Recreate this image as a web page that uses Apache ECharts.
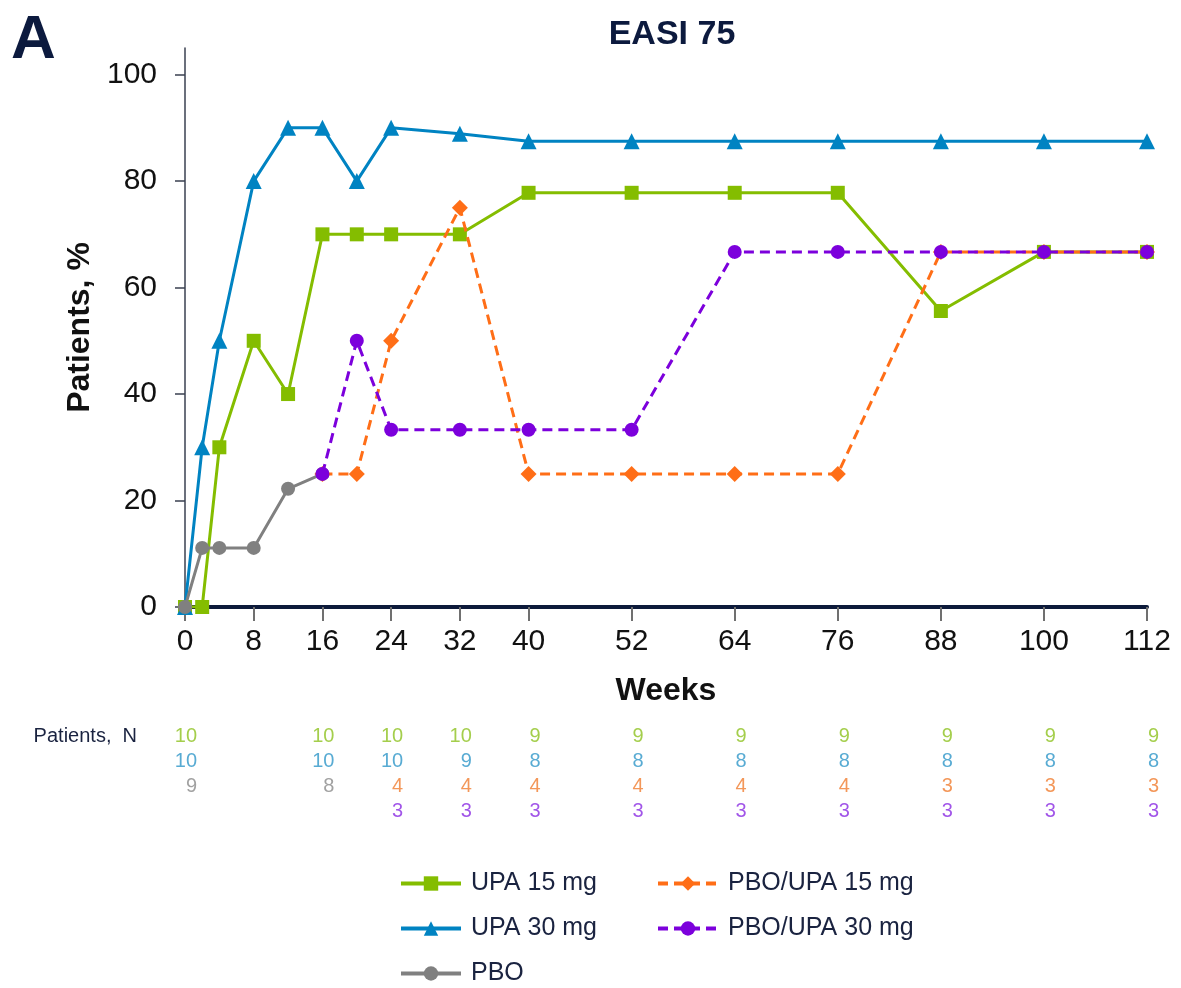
<!DOCTYPE html>
<html>
<head>
<meta charset="utf-8">
<script src="https://cdn.jsdelivr.net/npm/echarts@6/dist/echarts.min.js"></script>
<style>
html,body{margin:0;padding:0;background:#fff;}
#chart{width:1181px;height:988px;}
</style>
</head>
<body>
<div id="chart"></div>
<script>
// ---- data ----
const weeks = [0, 2, 4, 8, 12, 16, 20, 24, 32, 40, 52, 64, 76, 88, 100, 112];
const upa15 = [0, 0, 30, 50, 40, 70, 70, 70, 70, 77.8, 77.8, 77.8, 77.8, 55.6, 66.7, 66.7];
const upa30 = [0, 30, 50, 80, 90, 90, 80, 90, 88.9, 87.5, 87.5, 87.5, 87.5, 87.5, 87.5, 87.5];
const pboWeeks = [0, 2, 4, 8, 12, 16];
const pbo = [0, 11.1, 11.1, 11.1, 22.2, 25];
const switchWeeks = [16, 20, 24, 32, 40, 52, 64, 76, 88, 100, 112];
const pboUpa15 = [25, 25, 50, 75, 25, 25, 25, 25, 66.7, 66.7, 66.7];
const pboUpa30 = [25, 50, 33.3, 33.3, 33.3, 33.3, 66.7, 66.7, 66.7, 66.7, 66.7];

const xTickLabels = [0, 8, 16, 24, 32, 40, 52, 64, 76, 88, 100, 112];
const yTickLabels = [0, 20, 40, 60, 80, 100];

// patients N table
const nWeeks = [0, 16, 24, 32, 40, 52, 64, 76, 88, 100, 112];
const nUpa15 = [10, 10, 10, 10, 9, 9, 9, 9, 9, 9, 9];
const nUpa30 = [10, 10, 10, 9, 8, 8, 8, 8, 8, 8, 8];
const nPboWeeks = [0, 16];
const nPbo = [9, 8];
const nSwitchWeeks = [24, 32, 40, 52, 64, 76, 88, 100, 112];
const nPboUpa15 = [4, 4, 4, 4, 4, 4, 3, 3, 3];
const nPboUpa30 = [3, 3, 3, 3, 3, 3, 3, 3, 3];

const names = ['UPA 15 mg', 'UPA 30 mg', 'PBO', 'PBO/UPA 15 mg', 'PBO/UPA 30 mg'];
const colors = ['#84bd00', '#0083c2', '#808080', '#ff6e17', '#7c00dc'];
const tableColors = ['#8dc21f', '#2e96c8', '#8a8a8a', '#f07d30', '#8a2be2'];

const FONT = 'Liberation Sans, Arial, sans-serif';
const NAVY = '#0c1a3e';

const zip = (xs, ys) => xs.map((x, i) => [x, ys[i]]);

function lineSeries(i, xs, ys, symbol, size, dashed) {
  return {
    name: names[i], type: 'line', xAxisIndex: 0, yAxisIndex: 0,
    data: zip(xs, ys), symbol: symbol, symbolSize: size, z: 2 + i,
    itemStyle: { color: colors[i] },
    lineStyle: { color: colors[i], width: 3, type: dashed ? [10, 6] : 'solid' },
    emphasis: { disabled: true }, animation: false
  };
}

function tableSeries(i, xs, ns, row) {
  return {
    type: 'scatter', xAxisIndex: 1, yAxisIndex: 1,
    data: xs.map((x, k) => [x, row, ns[k]]),
    symbolSize: 1, itemStyle: { color: 'rgba(0,0,0,0)' },
    label: {
      show: true, position: 'inside', align: 'right', offset: [12, 0],
      formatter: p => String(p.value[2]),
      color: tableColors[i], fontSize: 20, fontFamily: FONT
    },
    silent: true, animation: false
  };
}

const legendCommon = {
  orient: 'vertical', top: 866, height: 122,
  itemWidth: 60, itemHeight: 18, itemGap: 20, selectedMode: false,
  lineStyle: { width: 4 },
  textStyle: { fontSize: 25, color: '#1a2340', fontFamily: FONT, padding: [0, 0, 0, 5] }
};

const chart = echarts.init(document.getElementById('chart'));
chart.setOption({
  backgroundColor: '#fff',
  textStyle: { fontFamily: FONT },
  title: [
    { text: 'EASI 75', left: 667, top: 13, textAlign: 'center',
      textStyle: { fontSize: 34, fontWeight: 'bold', color: NAVY, fontFamily: FONT } },
    { text: 'A', left: 6, top: 5,
      textStyle: { fontSize: 62, fontWeight: 'bold', color: NAVY, fontFamily: FONT } }
  ],
  legend: [
    Object.assign({ data: names.slice(0, 3), left: 394 }, legendCommon),
    Object.assign({ data: names.slice(3), left: 651 }, legendCommon)
  ],
  grid: [
    { left: 185, right: 34, top: 48, height: 559 },
    { left: 185, right: 34, top: 724, height: 100 }
  ],
  xAxis: [
    { type: 'value', gridIndex: 0, min: 0, max: 112,
      name: 'Weeks', nameLocation: 'middle', nameGap: 68,
      nameTextStyle: { fontSize: 32, fontWeight: 'bold', color: '#111', fontFamily: FONT },
      axisLine: { show: true, onZero: false, lineStyle: { color: '#0d1a3a', width: 4 } },
      axisTick: { show: true, customValues: xTickLabels, length: 14, lineStyle: { color: '#707070', width: 2 } },
      axisLabel: { customValues: xTickLabels, fontSize: 30, color: '#111', margin: 20, fontFamily: FONT },
      splitLine: { show: false } },
    { type: 'value', gridIndex: 1, min: 0, max: 112, show: false }
  ],
  yAxis: [
    { type: 'value', gridIndex: 0, min: 0, max: 105,
      name: 'Patients, %', nameLocation: 'middle', nameGap: 88, nameRotate: 90,
      nameTextStyle: { fontSize: 32, fontWeight: 'bold', color: '#111', fontFamily: FONT },
      axisLine: { show: true, onZero: false, lineStyle: { color: '#3a4050', width: 1.5 } },
      axisTick: { show: true, customValues: yTickLabels, length: 10, lineStyle: { color: '#3a4050', width: 1.5 } },
      axisLabel: { customValues: yTickLabels, fontSize: 30, color: '#111', margin: 28, fontFamily: FONT },
      splitLine: { show: false } },
    { type: 'category', gridIndex: 1, inverse: true, data: ['0', '1', '2', '3'],
      axisLine: { show: false }, axisTick: { show: false }, splitLine: { show: false },
      axisLabel: { margin: 48, fontSize: 20, color: '#1a2340', fontFamily: FONT,
        formatter: v => (v === '0' ? 'Patients,  N' : '') } }
  ],
  series: [
    lineSeries(0, weeks, upa15, 'rect', 14, false),
    lineSeries(1, weeks, upa30, 'triangle', 16, false),
    lineSeries(2, pboWeeks, pbo, 'circle', 14, false),
    lineSeries(3, switchWeeks, pboUpa15, 'diamond', 16, true),
    lineSeries(4, switchWeeks, pboUpa30, 'circle', 14, true),
    tableSeries(0, nWeeks, nUpa15, 0),
    tableSeries(1, nWeeks, nUpa30, 1),
    tableSeries(2, nPboWeeks, nPbo, 2),
    tableSeries(3, nSwitchWeeks, nPboUpa15, 2),
    tableSeries(4, nSwitchWeeks, nPboUpa30, 3)
  ]
});
</script>
</body>
</html>
